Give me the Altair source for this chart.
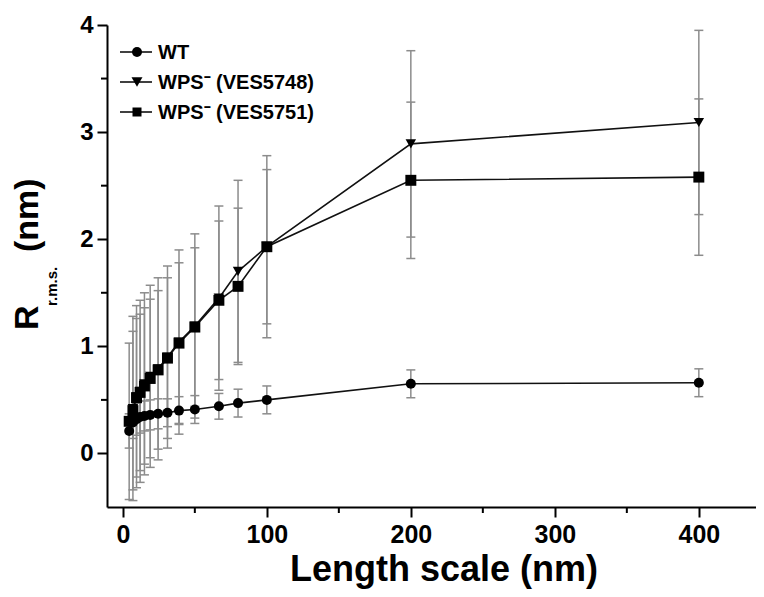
import altair as alt
import pandas as pd

FONT = "Liberation Sans"

series_names = ["WT", "WPS⁻ (VES5748)", "WPS⁻ (VES5751)"]

wt_x = [4.4, 7, 9.5, 12, 15, 19, 24.5, 31, 39, 50, 66.7, 80, 100, 200, 400]
wt_y = [0.21, 0.29, 0.32, 0.34, 0.35, 0.36, 0.37, 0.38, 0.40, 0.41, 0.44, 0.47, 0.50, 0.65, 0.66]
wt_err = [0.16, 0.15, 0.15, 0.15, 0.14, 0.14, 0.14, 0.13, 0.13, 0.13, 0.12, 0.13, 0.13, 0.13, 0.13]

v48_x = [7, 9.5, 12, 15, 19, 24.5, 31, 39, 50, 66.7, 80, 100, 200, 400]
v48_y = [0.42, 0.53, 0.58, 0.65, 0.72, 0.79, 0.90, 1.04, 1.19, 1.45, 1.70, 1.93, 2.89, 3.09]
v48_err = [0.86, 0.85, 0.85, 0.85, 0.85, 0.85, 0.85, 0.86, 0.86, 0.86, 0.85, 0.85, 0.87, 0.86]

v51_x = [4.4, 7, 9.5, 12, 15, 19, 24.5, 31, 39, 50, 66.7, 80, 100, 200, 400]
v51_y = [0.30, 0.40, 0.52, 0.57, 0.63, 0.70, 0.78, 0.89, 1.03, 1.18, 1.43, 1.56, 1.93, 2.55, 2.58]
v51_err = [0.73, 0.74, 0.74, 0.73, 0.73, 0.74, 0.74, 0.75, 0.75, 0.74, 0.74, 0.73, 0.72, 0.73, 0.73]

x_major = [0, 100, 200, 300, 400]
x_minor = [50, 150, 250, 350]
y_major = [0, 1, 2, 3, 4]
y_minor = [0.5, 1.5, 2.5, 3.5]

rows = []
for name, xs, ys, es in zip(series_names, [wt_x, v48_x, v51_x], [wt_y, v48_y, v51_y],
                            [wt_err, v48_err, v51_err]):
    for xv, yv, ev in zip(xs, ys, es):
        rows.append({"series": name, "x": xv, "y": yv, "lo": yv - ev, "hi": yv + ev})
df = pd.DataFrame(rows)

W, H = 649, 482
xscale = alt.Scale(domain=[-11, 439.7], nice=False, zero=False)
yscale = alt.Scale(domain=[-0.5, 4], nice=False, zero=False)
shapes = ["circle", "triangle-down", "square"]
sizes = [100, 120, 81]
shape_scale = alt.Scale(domain=series_names, range=shapes)
size_scale = alt.Scale(domain=series_names, range=sizes)

x_axis = alt.Axis(values=x_major, tickSize=10, tickWidth=2, tickColor="black",
                  domainColor="black", domainWidth=2, labelFont=FONT, labelFontSize=25,
                  labelFontWeight="bold", labelColor="black", labelPadding=5,
                  title="Length scale (nm)", titleFont=FONT, titleFontSize=36,
                  titleFontWeight="bold", titleColor="black", titlePadding=5,
                  titleX=W / 2 + 12, grid=False, format="d")
y_axis = alt.Axis(values=y_major, tickSize=10, tickWidth=2, tickColor="black",
                  domainColor="black", domainWidth=2, labelFont=FONT, labelFontSize=24,
                  labelFontWeight="bold", labelColor="black", labelPadding=4,
                  title="", grid=False, format="d")


def X(field):
    return alt.X(field, scale=xscale, axis=x_axis, title="Length scale (nm)")


def Y(field):
    return alt.Y(field, scale=yscale, axis=y_axis, title="")


ERR = "#8c8c8c"
base = alt.Chart(df)

err_rules = base.mark_rule(color=ERR, strokeWidth=1.5).encode(
    x=X("x:Q"), y=Y("lo:Q"), y2="hi:Q",
)
cap_lo = base.mark_point(shape="M-1,0L1,0", size=81, color=ERR, strokeWidth=1.5,
                         filled=False, opacity=1).encode(x=X("x:Q"), y=Y("lo:Q"))
cap_hi = base.mark_point(shape="M-1,0L1,0", size=81, color=ERR, strokeWidth=1.5,
                         filled=False, opacity=1).encode(x=X("x:Q"), y=Y("hi:Q"))
lines = base.mark_line(color="#111111", strokeWidth=1.6).encode(
    x=X("x:Q"), y=Y("y:Q"), detail="series:N",
)
points = base.mark_point(filled=True, color="black", opacity=1).encode(
    x=X("x:Q"), y=Y("y:Q"),
    shape=alt.Shape("series:N", scale=shape_scale, legend=None),
    size=alt.Size("series:N", scale=size_scale, legend=None),
)

minor_x = alt.Chart(pd.DataFrame({"v": x_minor})).mark_rule(color="black", strokeWidth=2).encode(
    x=X("v:Q"), y=alt.value(H), y2=alt.value(H + 6),
)
minor_y = alt.Chart(pd.DataFrame({"v": y_minor})).mark_rule(color="black", strokeWidth=2).encode(
    y=Y("v:Q"), x=alt.value(0), x2=alt.value(-6),
)

# legend (drawn inside the plot, top-left)
legend_layers = []
leg_y = [27, 57, 87]
for name, shp, sz, ly in zip(series_names, shapes, sizes, leg_y):
    d = pd.DataFrame({"s": [name]})
    legend_layers.append(alt.Chart(d).mark_rule(color="#111111", strokeWidth=1.6).encode(
        x=alt.value(13), x2=alt.value(45), y=alt.value(ly)))
    legend_layers.append(alt.Chart(d).mark_point(shape=shp, size=sz, filled=True,
                                                 color="black", opacity=1).encode(
        x=alt.value(30), y=alt.value(ly)))
    legend_layers.append(alt.Chart(d).mark_text(align="left", baseline="middle", font=FONT,
                                                fontSize=20, fontWeight="bold",
                                                color="black").encode(
        x=alt.value(51), y=alt.value(ly + 1), text="s:N"))

# y-axis title with subscript
ytitle_parts = [("R", 34, -69, 305), ("r.m.s.", 15, -50, 281), ("(nm)", 34, -69, 227)]
ytitle_layers = []
for txt, fs, px, py in ytitle_parts:
    ytitle_layers.append(alt.Chart(pd.DataFrame({"t": [txt]})).mark_text(
        align="left", baseline="alphabetic", angle=270, font=FONT, fontSize=fs,
        fontWeight="bold", color="black").encode(
        x=alt.value(px), y=alt.value(py), text="t:N"))

chart = alt.layer(
    err_rules, cap_lo, cap_hi, lines, points, minor_x, minor_y,
    *legend_layers, *ytitle_layers
).properties(
    width=W, height=H,
    padding={"left": 99, "top": 17, "right": 0, "bottom": 82},
    autosize=alt.AutoSizeParams(type="none"),
).configure(background="white").configure_view(stroke=None)

chart.save("out.html", embed_options={"renderer": "svg", "actions": False})
